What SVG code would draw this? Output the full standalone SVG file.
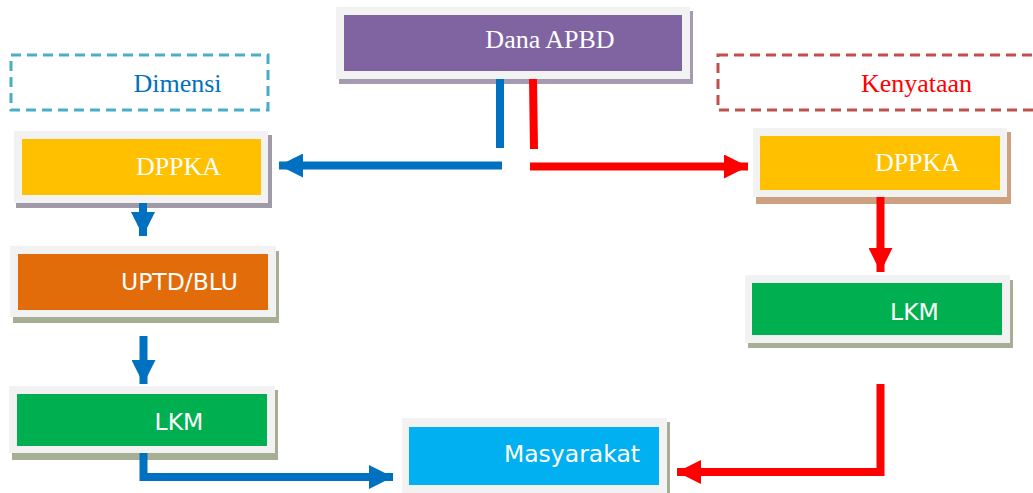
<svg xmlns="http://www.w3.org/2000/svg" width="1033" height="493" viewBox="0 0 1033 493">
<style>
.outer{fill:#F2F2F2}
.serif{font-family:"Liberation Serif","Times New Roman",serif;font-size:26px;text-anchor:middle}
.sans{font-family:"DejaVu Sans",Verdana,sans-serif;font-size:23.5px;text-anchor:middle;fill:#FFFFFF}
.dash{fill:none;stroke-width:3;stroke-dasharray:10 6}
.blue{stroke:#0070C0;stroke-width:8;fill:none}
.red{stroke:#FF0000;stroke-width:8;fill:none}
</style>
<defs>
<marker id="ab" markerUnits="userSpaceOnUse" viewBox="0 0 24 24" refX="24" refY="12" markerWidth="24" markerHeight="24" orient="auto"><path d="M0,0 L24,12 L0,24 Z" fill="#0070C0"/></marker>
<marker id="ar" markerUnits="userSpaceOnUse" viewBox="0 0 24 24" refX="24" refY="12" markerWidth="24" markerHeight="24" orient="auto"><path d="M0,0 L24,12 L0,24 Z" fill="#FF0000"/></marker>
</defs>
<rect width="1033" height="493" fill="#FFFFFF"/>

<g id="dimensi">
<rect class="dash" x="11" y="55" width="257" height="55" stroke="#4BACC6"/>
<text class="serif" x="177.5" y="92" fill="#0070C0">Dimensi</text>
</g>
<g id="kenyataan">
<rect class="dash" x="718" y="55" width="330" height="55" stroke="#C0504D"/>
<text class="serif" x="916.5" y="92" fill="#FF0000">Kenyataan</text>
</g>

<g id="dana-apbd">
<rect x="339" y="11" width="354" height="73" fill="#A59BB0"/>
<rect class="outer" x="336" y="7" width="354" height="72"/>
<rect x="344" y="15" width="338" height="56" fill="#8064A2"/>
<text class="serif" x="550" y="48" fill="#FFFFFF">Dana APBD</text>
</g>

<g id="dppka-left">
<rect x="16" y="135" width="256" height="73" fill="#A09AA8"/>
<rect class="outer" x="14" y="131" width="254" height="72"/>
<rect x="22" y="139" width="239" height="56" fill="#FFC000"/>
<text class="serif" x="178.5" y="175" fill="#FFFFFF">DPPKA</text>
</g>

<g id="dppka-right">
<rect x="756" y="132" width="255" height="72" fill="#CDA080"/>
<rect class="outer" x="753" y="128" width="254" height="69"/>
<rect x="760" y="136" width="240" height="54" fill="#FFC000"/>
<text class="serif" x="917.5" y="171" fill="#FFFFFF">DPPKA</text>
</g>

<g id="uptd-blu">
<rect x="13" y="251" width="266" height="72" fill="#A6AE94"/>
<rect class="outer" x="10" y="246" width="266" height="71"/>
<rect x="18" y="254" width="250" height="56" fill="#E36C0A"/>
<text class="sans" x="179.5" y="290">UPTD/BLU</text>
</g>

<g id="lkm-left">
<rect x="12" y="390" width="266" height="70" fill="#A6AE94"/>
<rect class="outer" x="9" y="386" width="266" height="67"/>
<rect x="17" y="394" width="250" height="52" fill="#00B050"/>
<text class="sans" x="179" y="430">LKM</text>
</g>

<g id="lkm-right">
<rect x="748" y="280" width="265" height="68" fill="#A6AE94"/>
<rect class="outer" x="745" y="275" width="265" height="68"/>
<rect x="752" y="283" width="250" height="52" fill="#00B050"/>
<text class="sans" x="914.5" y="320">LKM</text>
</g>

<g id="masyarakat">
<rect x="405" y="422" width="265" height="75" fill="#A6AE94"/>
<rect class="outer" x="402" y="418" width="265" height="80"/>
<rect x="409" y="427" width="250" height="58" fill="#00B0F0"/>
<text class="sans" x="572" y="462">Masyarakat</text>
</g>

<g id="connectors">
<line class="blue" x1="500" y1="79" x2="500" y2="148"/>
<line class="blue" x1="502" y1="165.5" x2="279" y2="165.5" marker-end="url(#ab)"/>
<line class="blue" x1="143" y1="203" x2="143" y2="236" marker-end="url(#ab)"/>
<line class="blue" x1="143.5" y1="336" x2="143.5" y2="384" marker-end="url(#ab)"/>
<path class="blue" d="M143.5,453 V477 H393" marker-end="url(#ab)"/>
<line class="red" x1="533" y1="79" x2="534" y2="149"/>
<line class="red" x1="530" y1="166.5" x2="748" y2="166.5" marker-end="url(#ar)"/>
<line class="red" x1="880.5" y1="197" x2="880.5" y2="272" marker-end="url(#ar)"/>
<path class="red" d="M880.5,384 V472 H677" marker-end="url(#ar)"/>
</g>
</svg>
